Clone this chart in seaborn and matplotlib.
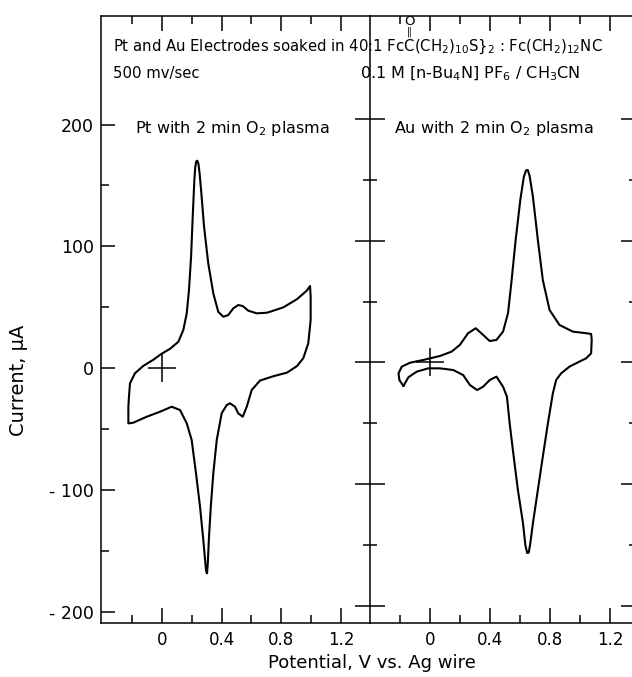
import matplotlib
matplotlib.use("Agg")
import numpy as np
import pandas as pd
import matplotlib.pyplot as plt
import seaborn as sns
from matplotlib.ticker import FixedLocator, NullFormatter

# Pt electrode: anodic (upper) and cathodic (lower) branches, V vs Ag wire / uA
pt_up_v = [-0.224, -0.224, -0.220, -0.213, -0.180, -0.124, -0.057, -0.007, 0.055, 0.111,
           0.144, 0.167, 0.182, 0.196, 0.207, 0.218, 0.224, 0.231, 0.238, 0.245,
           0.253, 0.263, 0.283, 0.311, 0.345, 0.378, 0.412, 0.445, 0.479, 0.512,
           0.542, 0.579, 0.636, 0.703, 0.725, 0.814, 0.904, 0.971, 0.993]
pt_up_i = [-45.1, -31.5, -23.3, -12.3, -4.1, 2.0, 7.0, 11.5, 16.0, 21.8,
           31.4, 45.1, 64.2, 91.5, 124.4, 154.5, 165.0, 169.8, 170.3, 168.0,
           160.0, 146.4, 116.2, 86.2, 61.5, 46.4, 42.3, 43.7, 49.2, 51.9,
           51.1, 47.3, 45.1, 45.6, 46.4, 50.0, 56.6, 63.7, 67.5]
pt_dn_v = [0.997, 0.997, 0.981, 0.948, 0.906, 0.839, 0.747, 0.658, 0.602, 0.569,
           0.542, 0.512, 0.490, 0.457, 0.435, 0.401, 0.368, 0.345, 0.328, 0.315,
           0.308, 0.303, 0.297, 0.289, 0.278, 0.256, 0.229, 0.200, 0.167, 0.122,
           0.066, -0.012, -0.101, -0.191, -0.218]
pt_dn_i = [58.7, 39.6, 20.5, 8.4, 1.9, -3.5, -6.5, -10.0, -17.8, -31.5,
           -39.7, -36.9, -31.5, -28.7, -30.1, -36.9, -58.8, -86.1, -113.5, -140.8,
           -160.0, -168.2, -166.5, -156.0, -140.8, -113.5, -86.1, -58.8, -45.1, -34.2,
           -31.5, -35.6, -39.7, -44.6, -45.1]

# Au electrode
au_up_v = [-0.177, -0.204, -0.210, -0.188, -0.133, -0.044, 0.066, 0.144, 0.199, 0.254,
           0.305, 0.354, 0.398, 0.443, 0.487, 0.520, 0.542, 0.571, 0.602, 0.625,
           0.640, 0.652, 0.664, 0.686, 0.719, 0.752, 0.797, 0.863, 0.952, 1.041, 1.074]
au_up_i = [-19.3, -14.4, -8.9, -3.4, -0.2, 2.1, 5.3, 8.9, 14.4, 24.0,
           28.1, 22.6, 17.6, 18.5, 25.3, 40.4, 65.0, 100.5, 133.3, 152.0,
           157.5, 157.9, 153.0, 136.0, 100.5, 67.7, 43.1, 30.8, 25.3, 24.0, 23.4]
au_dn_v = [1.078, 1.074, 1.041, 0.996, 0.930, 0.874, 0.841, 0.819, 0.786, 0.752,
           0.719, 0.686, 0.668, 0.658, 0.648, 0.636, 0.620, 0.586, 0.558, 0.531, 0.513,
           0.487, 0.443, 0.398, 0.354, 0.314, 0.266, 0.221, 0.155, 0.066, -0.011,
           -0.088, -0.144, -0.177]
au_dn_i = [18.5, 7.5, 3.4, 0.7, -3.4, -8.9, -14.4, -25.3, -49.9, -77.3,
           -104.6, -131.9, -149.0, -156.0, -156.3, -150.0, -131.9, -104.6, -77.3, -49.9, -28.1,
           -19.9, -11.6, -14.4, -19.9, -22.6, -18.5, -10.3, -6.2, -4.8, -4.8,
           -7.5, -12.1, -19.3]

x_major = [0, 0.4, 0.8, 1.2]
x_minor = [-0.2, 0.2, 0.6, 1.0]
x_labels = ["0", "0.4", "0.8", "1.2"]
y_major = [-200, -100, 0, 100, 200]
y_minor = [-150, -50, 50, 150]
y_labels = ["- 200", "- 100", "0", "100", "200"]

sns.set_style("ticks")
plt.rcParams["font.family"] = ["DejaVu Sans"]
plt.rcParams["mathtext.fontset"] = "dejavusans"
plt.rcParams["text.color"] = "black"
plt.rcParams["axes.labelcolor"] = "black"

W, H = 632, 677
fig = plt.figure(figsize=(W / 100, H / 100), dpi=100)


def box(x0, x1, y0, y1):
    return [x0 / W, 1 - y1 / H, (x1 - x0) / W, (y1 - y0) / H]


ax1 = fig.add_axes(box(101, 370, 16, 623))
ax2 = fig.add_axes(box(370, 636, 16, 623))

pt = pd.DataFrame({"potential": pt_up_v + pt_dn_v, "current": pt_up_i + pt_dn_i})
au = pd.DataFrame({"potential": au_up_v + au_dn_v, "current": au_up_i + au_dn_i})

for ax, df in [(ax1, pt), (ax2, au)]:
    sns.lineplot(data=df, x="potential", y="current", sort=False, estimator=None,
                 color="black", lw=1.5, ax=ax)
    sns.scatterplot(x=[0], y=[0], marker="+", s=400, color="black",
                    linewidth=1.1, ax=ax)
    ax.xaxis.set_major_locator(FixedLocator(x_major))
    ax.xaxis.set_minor_locator(FixedLocator(x_minor))
    ax.yaxis.set_major_locator(FixedLocator(y_major))
    ax.yaxis.set_minor_locator(FixedLocator(y_minor))
    ax.set_xticklabels(x_labels)
    ax.tick_params(axis="x", which="both", direction="in", top=True, bottom=True,
                   width=1.1, labelsize=12, pad=6, colors="black")
    ax.tick_params(axis="x", which="major", length=10.5)
    ax.tick_params(axis="x", which="minor", length=5.5)
    for s in ax.spines.values():
        s.set_linewidth(1.1)
        s.set_color("black")
    ax.set_xlabel("")
    ax.set_ylabel("")

ax1.set_xlim(-0.4073, 1.3945)
ax1.set_ylim(-208.9, 289.0)
ax2.set_xlim(-0.4, 1.3733)
ax2.set_ylim(-213.7, 284.2)

ax1.spines["right"].set_visible(False)
ax1.set_yticklabels(y_labels)
ax1.tick_params(axis="y", which="both", direction="in", left=True, right=False,
                width=1.1, labelsize=12.5, pad=5, colors="black")
ax1.tick_params(axis="y", which="major", length=10)
ax1.tick_params(axis="y", which="minor", length=5.8)

ax2.spines["right"].set_visible(False)
ax2.yaxis.set_major_formatter(NullFormatter())
ax2.tick_params(axis="y", which="both", direction="inout", left=True, right=True,
                labelleft=False, width=1.1, colors="black")
ax2.tick_params(axis="y", which="major", length=21.6)
ax2.tick_params(axis="y", which="minor", length=10)

ax1.set_ylabel("Current, μA", fontsize=14)
ax1.yaxis.set_label_coords((28 - 101) / 269, (623 - 380) / 607)
ax1.set_xlabel("Potential, V vs. Ag wire", fontsize=13)
ax1.xaxis.set_label_coords((372 - 101) / 269, -(654 - 623) / 607)

# heading and panel captions
head_size = 10.7
fig.text(113 / W, 1 - 51 / H,
         r"Pt and Au Electrodes soaked in 40:1 FcC(CH$_2$)$_{10}$S}$_2$ : Fc(CH$_2$)$_{12}$NC",
         ha="left", va="baseline", fontsize=head_size)

# carbonyl O= drawn above the second C of "FcC"
renderer = fig.canvas.get_renderer()
probe = fig.text(0, 0, "Pt and Au Electrodes soaked in 40:1 Fc", fontsize=head_size)
pre_w = probe.get_window_extent(renderer).width
probe.set_text("C")
c_w = probe.get_window_extent(renderer).width
probe.remove()
xc = (113 + pre_w + c_w / 2) / W
fig.text(xc, 1 - 37 / H, "‖", ha="center", va="bottom", fontsize=7)
fig.text(xc, 1 - 28 / H, "O", ha="center", va="bottom", fontsize=9.5)

fig.text(113 / W, 1 - 78 / H, "500 mv/sec", ha="left", va="baseline", fontsize=10.7)
fig.text(360 / W, 1 - 78 / H, r"0.1 M [n-Bu$_4$N] PF$_6$ / CH$_3$CN",
         ha="left", va="baseline", fontsize=11.5)
fig.text(232 / W, 1 - 133 / H, r"Pt with 2 min O$_2$ plasma",
         ha="center", va="baseline", fontsize=11.5)
fig.text(494 / W, 1 - 133 / H, r"Au with 2 min O$_2$ plasma",
         ha="center", va="baseline", fontsize=11.5)

fig.savefig("out.png", dpi=100, facecolor="white")
